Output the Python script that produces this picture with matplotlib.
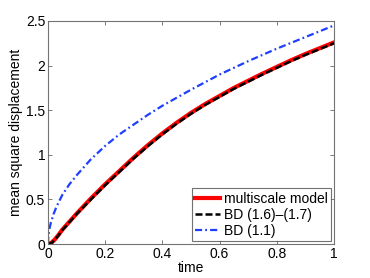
import numpy as np
import matplotlib
matplotlib.use("Agg")
import matplotlib.pyplot as plt

plt.rcParams['font.family'] = ['Liberation Sans', 'DejaVu Sans']

t_red = [0, 0.0125, 0.025, 0.0375, 0.05, 0.075, 0.1, 0.15, 0.2, 0.25, 0.3, 0.35, 0.4, 0.45, 0.5,
         0.55, 0.6, 0.65, 0.7, 0.75, 0.8, 0.85, 0.9, 0.95, 1.0]
y_red = [0, 0.015, 0.055, 0.105, 0.16, 0.25, 0.34, 0.51, 0.67, 0.82, 0.97, 1.11, 1.24, 1.36, 1.47,
         1.57, 1.66, 1.75, 1.83, 1.91, 1.985, 2.06, 2.13, 2.195, 2.26]
y_black = [0, 0.012, 0.05, 0.10, 0.155, 0.245, 0.335, 0.50, 0.66, 0.81, 0.96, 1.10, 1.23, 1.35, 1.46,
           1.56, 1.65, 1.74, 1.82, 1.90, 1.975, 2.05, 2.12, 2.185, 2.25]
t_blue = [0, 0.001, 0.0025, 0.005, 0.01, 0.02, 0.03, 0.05, 0.075, 0.1, 0.15, 0.2, 0.25, 0.3, 0.35,
          0.4, 0.45, 0.5, 0.6, 0.7, 0.8, 0.9, 1.0]
y_blue = [0, 0.07, 0.12, 0.17, 0.24, 0.34, 0.42, 0.55, 0.67, 0.77, 0.95, 1.10, 1.23, 1.34, 1.45,
          1.55, 1.64, 1.73, 1.90, 2.05, 2.19, 2.32, 2.45]

labels = ['multiscale model', 'BD (1.6)\u2013(1.7)', 'BD (1.1)']

fig = plt.figure(figsize=(3.7, 2.78), dpi=100)
ax = fig.add_axes([48/370, 34/278, 286/370, 223/278])
ax.plot(t_red, y_red, color='#ff0000', lw=3, label=labels[0], solid_joinstyle='round')
ax.plot(t_red, y_black, color='black', lw=1.8, ls=(0, (2.8, 1.2)), label=labels[1])
ax.plot(t_blue, y_blue, color='#1f3fff', lw=1.6, ls=(0, (3.2, 1.4, 0.8, 1.4)), label=labels[2])

ax.set_xlim(0, 1)
ax.set_ylim(0, 2.5)
ax.set_xticks([0, 0.2, 0.4, 0.6, 0.8, 1])
ax.set_xticklabels(['0', '0.2', '0.4', '0.6', '0.8', '1'])
ax.set_yticks([0, 0.5, 1, 1.5, 2, 2.5])
ax.set_yticklabels(['0', '0.5', '1', '1.5', '2', '2.5'])
ax.tick_params(direction='in', top=True, right=True, labelsize=10, length=3, width=0.6,
               colors='0.4', labelcolor='black', pad=2)
for s in ax.spines.values():
    s.set_color('0.45')
    s.set_linewidth(0.8)
ax.set_xlabel('time', fontsize=10, labelpad=0)
ax.set_ylabel('mean square displacement', fontsize=10, labelpad=2)
leg = ax.legend(loc='lower right', fontsize=10, frameon=True, fancybox=False, handlelength=1.8,
                handletextpad=0.25, borderpad=0.25, labelspacing=0.15, borderaxespad=0.2)
leg.get_frame().set_edgecolor('0.3')
leg.get_frame().set_linewidth(0.8)
fig.savefig('out.png', dpi=100)
